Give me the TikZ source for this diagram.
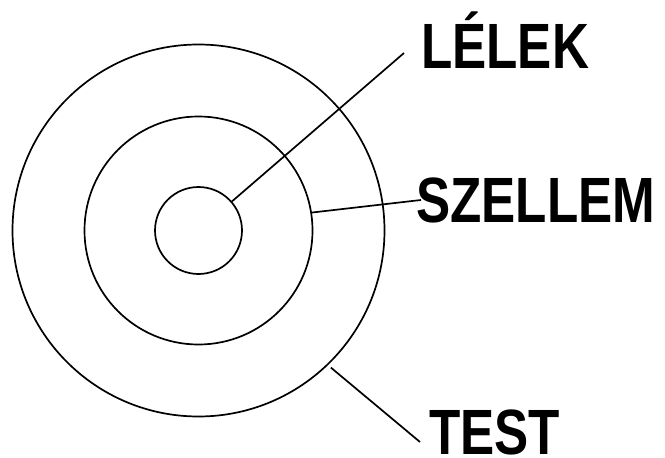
\documentclass[tikz,border=0pt]{standalone}
\usepackage{fontspec}
\usetikzlibrary{calc}
\newfontfamily\lblfont{Liberation Sans}[FakeStretch=0.8]
\begin{document}
\begin{tikzpicture}[x=1pt,y=-1pt,
  ring/.style={circle, draw=black, line width=1.7pt, inner sep=0pt},
  leader/.style={draw=black, line width=1.7pt},
  lbl/.style={anchor=base west, inner sep=0pt, text depth=0pt, font=\lblfont\bfseries\fontsize{64}{64}\selectfont}]
\useasboundingbox (0,0) rectangle (665,458);
\node[ring, minimum size=372pt] (outer) at (198.5,230.5) {};
\node[ring, minimum size=228pt] (middle) at (198.5,230.5) {};
\node[ring, minimum size=87pt] (inner) at (198.5,230.5) {};
\node[lbl] (lelek) at (421,68) {LÉLEK};
\node[lbl] (szellem) at (416,222) {SZELLEM};
\node[lbl] (test) at (429,454) {TEST};
\coordinate (lelekend) at (404,53);
\coordinate (szellemend) at (421,200);
\coordinate (testend) at (420,442);
\coordinate (teststart) at ($(outer.center)!1.02!(outer.-46)$);
\draw[leader] (inner.41) -- (lelekend);
\draw[leader] (middle.9) -- (szellemend);
\draw[leader] (teststart) -- (testend);
\end{tikzpicture}
\end{document}
